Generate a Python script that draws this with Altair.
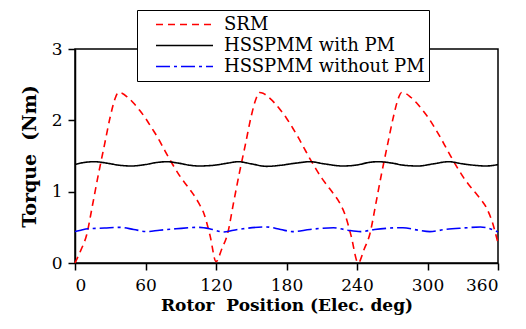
import altair as alt
import pandas as pd

series_names = ["SRM", "HSSPMM with PM", "HSSPMM without PM"]

srm_x = [0, 5, 10, 15, 20, 25, 30, 34, 37, 40, 45, 50, 55, 60, 65, 70, 75, 80, 85, 90, 95, 100, 105, 110, 115, 120,
         125, 130, 135, 140, 145, 150, 154, 157, 160, 165, 170, 175, 180, 185, 190, 195, 200, 205, 210, 215, 220, 225, 230, 235, 241,
         246, 251, 256, 261, 266, 271, 275, 278, 281, 286, 291, 296, 301, 306, 311, 316, 321, 326, 331, 336, 341, 345, 350, 355, 360]
srm_y = [0.0, 0.18, 0.40, 0.82, 1.25, 1.65, 2.05, 2.30, 2.39, 2.38, 2.32, 2.24, 2.14, 2.03, 1.90, 1.77, 1.62, 1.47, 1.33, 1.20, 1.09, 0.98, 0.85, 0.68, 0.38, 0.02,
         0.20, 0.42, 0.85, 1.27, 1.66, 2.06, 2.30, 2.39, 2.38, 2.32, 2.24, 2.14, 2.03, 1.90, 1.76, 1.61, 1.46, 1.32, 1.19, 1.08, 0.97, 0.85, 0.67, 0.38, 0.0,
         0.19, 0.41, 0.83, 1.26, 1.66, 2.05, 2.30, 2.39, 2.38, 2.32, 2.24, 2.14, 2.03, 1.90, 1.76, 1.61, 1.46, 1.32, 1.19, 1.08, 0.98, 0.90, 0.78, 0.58, 0.28]

pm_x = [0, 8, 17, 27, 38, 48, 60, 70, 78, 88, 98, 105, 118, 130, 139, 150, 163, 175, 188, 200, 212, 228, 242, 250, 258,
        270, 280, 292, 305, 318, 330, 340, 350, 360]
pm_y = [1.38, 1.41, 1.42, 1.40, 1.37, 1.36, 1.38, 1.41, 1.42, 1.40, 1.37, 1.36, 1.37, 1.40, 1.42, 1.39, 1.355, 1.37, 1.40, 1.42, 1.39, 1.36, 1.38, 1.41, 1.42,
        1.40, 1.37, 1.36, 1.39, 1.42, 1.39, 1.37, 1.36, 1.38]

nopm_x = [0, 5, 11, 25, 38, 50, 61, 72, 86, 106, 117, 126, 135, 143, 163, 175, 185, 200, 220, 232, 243, 255, 279, 292, 302,
          315, 330, 345, 360]
nopm_y = [0.44, 0.46, 0.48, 0.49, 0.50, 0.47, 0.44, 0.46, 0.48, 0.50, 0.47, 0.435, 0.46, 0.48, 0.505, 0.47, 0.44, 0.47, 0.495, 0.46, 0.44, 0.47, 0.495, 0.46, 0.44,
          0.47, 0.49, 0.505, 0.435]

x_ticks = [0, 60, 120, 180, 240, 300, 360]
y_ticks = [0, 1, 2, 3]

FONT = "DejaVu Serif"

rows = []
for name, xs, ys in zip(series_names, [srm_x, pm_x, nopm_x], [srm_y, pm_y, nopm_y]):
    for i, (a, b) in enumerate(zip(xs, ys)):
        rows.append({"series": name, "pos": a, "torque": b, "order": i})
df = pd.DataFrame(rows)

chart = alt.Chart(df).mark_line(strokeWidth=1.6, interpolate="monotone").encode(
    x=alt.X("pos:Q", scale=alt.Scale(domain=[0, 360], nice=False),
            axis=alt.Axis(values=x_ticks, title="Rotor\u00a0 Position (Elec. deg)", titlePadding=4, labelPadding=7,
                          titleFontSize=17)),
    y=alt.Y("torque:Q", scale=alt.Scale(domain=[0, 3], nice=False),
            axis=alt.Axis(values=y_ticks, title="Torque\u00a0 (Nm)", titlePadding=12, labelPadding=6)),
    color=alt.Color("series:N", scale=alt.Scale(domain=series_names, range=["#ff0000", "#000000", "#0000ff"]), title=None),
    strokeDash=alt.StrokeDash("series:N", scale=alt.Scale(domain=series_names, range=[[7, 5], [1, 0], [14, 4, 3, 4]]), title=None),
    order="order:Q",
).properties(
    width=423, height=214,
    autosize=alt.AutoSizeParams(type="none"),
    padding={"left": 75, "top": 49, "right": 28, "bottom": 66},
).configure_view(
    stroke="black", strokeWidth=1.5
).configure_axis(
    domainColor="black", domainWidth=1.5, tickColor="black", tickWidth=1.5, tickSize=7,
    labelFont=FONT, labelFontSize=17, labelColor="black", grid=False,
    titleFont=FONT, titleFontSize=19, titleFontWeight="bold", titleColor="black",
).configure_legend(
    orient="none", legendX=62, legendY=-39, strokeColor="black", fillColor="white",
    padding=4, labelFont=FONT, labelFontSize=18, labelColor="black",
    symbolType="stroke", symbolSize=3249, symbolStrokeWidth=1.6, clipHeight=21,
    labelOffset=10, symbolOffset=14, rowPadding=0, labelLimit=400,
)

chart.save("out.html", embed_options={"renderer": "svg", "actions": False})
